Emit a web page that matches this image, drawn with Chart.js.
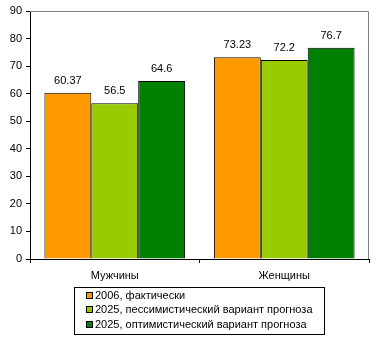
<!DOCTYPE html>
<html><head><meta charset="utf-8">
<script src="https://cdn.jsdelivr.net/npm/chart.js@4/dist/chart.umd.min.js"></script>
<style>html,body{margin:0;padding:0;background:#fff;}canvas{display:block;}</style>
</head><body>
<canvas id="c" width="380" height="345"></canvas>
<script>
const categories = ["Мужчины", "Женщины"];
const seriesNames = ["2006, фактически", "2025, пессимистический вариант прогноза", "2025, оптимистический вариант прогноза"];
const actual2006 = [60.37, 73.23];
const pessimistic2025 = [56.5, 72.2];
const optimistic2025 = [64.6, 76.7];
const yTicks = [0, 10, 20, 30, 40, 50, 60, 70, 80, 90];
const colors = ["#FF9900", "#99CC00", "#008000"];

Chart.defaults.font.family = '"Liberation Sans", Arial, sans-serif';
Chart.defaults.font.size = 11;
Chart.defaults.color = '#000';

const seriesData = [actual2006, pessimistic2025, optimistic2025];

const frame = {
  id: 'frame',
  afterDraw(chart) {
    const {ctx, chartArea: a} = chart;
    ctx.save();
    ctx.strokeStyle = '#808080';
    ctx.lineWidth = 1;
    ctx.beginPath();
    ctx.moveTo(a.left, a.top + 0.5);
    ctx.lineTo(a.right - 0.5, a.top + 0.5);
    ctx.lineTo(a.right - 0.5, a.bottom);
    ctx.stroke();
    ctx.restore();
  }
};

const valueLabels = {
  id: 'valueLabels',
  afterDatasetsDraw(chart) {
    const ctx = chart.ctx;
    ctx.save();
    ctx.font = '11px "Liberation Sans", Arial, sans-serif';
    ctx.fillStyle = '#000';
    ctx.textAlign = 'center';
    ctx.textBaseline = 'alphabetic';
    chart.data.datasets.forEach((ds, i) => {
      chart.getDatasetMeta(i).data.forEach((bar, j) => {
        ctx.fillText(String(ds.data[j]), bar.x, bar.y - 9);
      });
    });
    ctx.restore();
  }
};

const boxLegend = {
  id: 'boxLegend',
  afterDraw(chart) {
    const ctx = chart.ctx;
    ctx.save();
    const bx = 74, by = 287, bw = 250, bh = 47;
    ctx.strokeStyle = '#000';
    ctx.lineWidth = 1;
    ctx.strokeRect(bx + 0.5, by + 0.5, bw, bh);
    ctx.font = '11px "Liberation Sans", Arial, sans-serif';
    ctx.textBaseline = 'middle';
    ctx.textAlign = 'left';
    chart.data.datasets.forEach((ds, i) => {
      const cy = 296 + i * 14.3;
      ctx.fillStyle = ds.backgroundColor;
      ctx.fillRect(86, Math.round(cy) - 4, 7, 7);
      ctx.strokeStyle = '#000';
      ctx.strokeRect(86.5, Math.round(cy) - 3.5, 6, 6);
      ctx.fillStyle = '#000';
      ctx.fillText(ds.label, 95, cy);
    });
    ctx.restore();
  }
};

new Chart(document.getElementById('c'), {
  type: 'bar',
  data: {
    labels: categories,
    datasets: seriesNames.map((n, i) => ({
      label: n,
      data: seriesData[i],
      backgroundColor: colors[i],
      borderColor: '#000',
      borderWidth: 1,
      categoryPercentage: 0.83,
      barPercentage: 1
    }))
  },
  options: {
    responsive: false,
    animation: false,
    devicePixelRatio: 1,
    layout: { padding: { top: 11, right: 11, left: 0, bottom: 0 } },
    plugins: { legend: { display: false }, tooltip: { enabled: false } },
    scales: {
      x: {
        grid: { offset: true, drawOnChartArea: false, drawTicks: true, tickLength: 4, color: '#000' },
        border: { color: '#000', width: 1 },
        ticks: { padding: 6, color: '#000', font: { size: 11 } },
        afterFit(s) { s.height = 86; }
      },
      y: {
        min: 0, max: 90,
        afterBuildTicks(s) { s.ticks = yTicks.map(v => ({ value: v })); },
        grid: { drawOnChartArea: false, drawTicks: true, tickLength: 4, color: '#000' },
        border: { color: '#000', width: 1 },
        ticks: { padding: 4, color: '#000', font: { size: 11 } },
        afterFit(s) { s.width = 30; }
      }
    }
  },
  plugins: [frame, valueLabels, boxLegend]
});
</script>
</body></html>
